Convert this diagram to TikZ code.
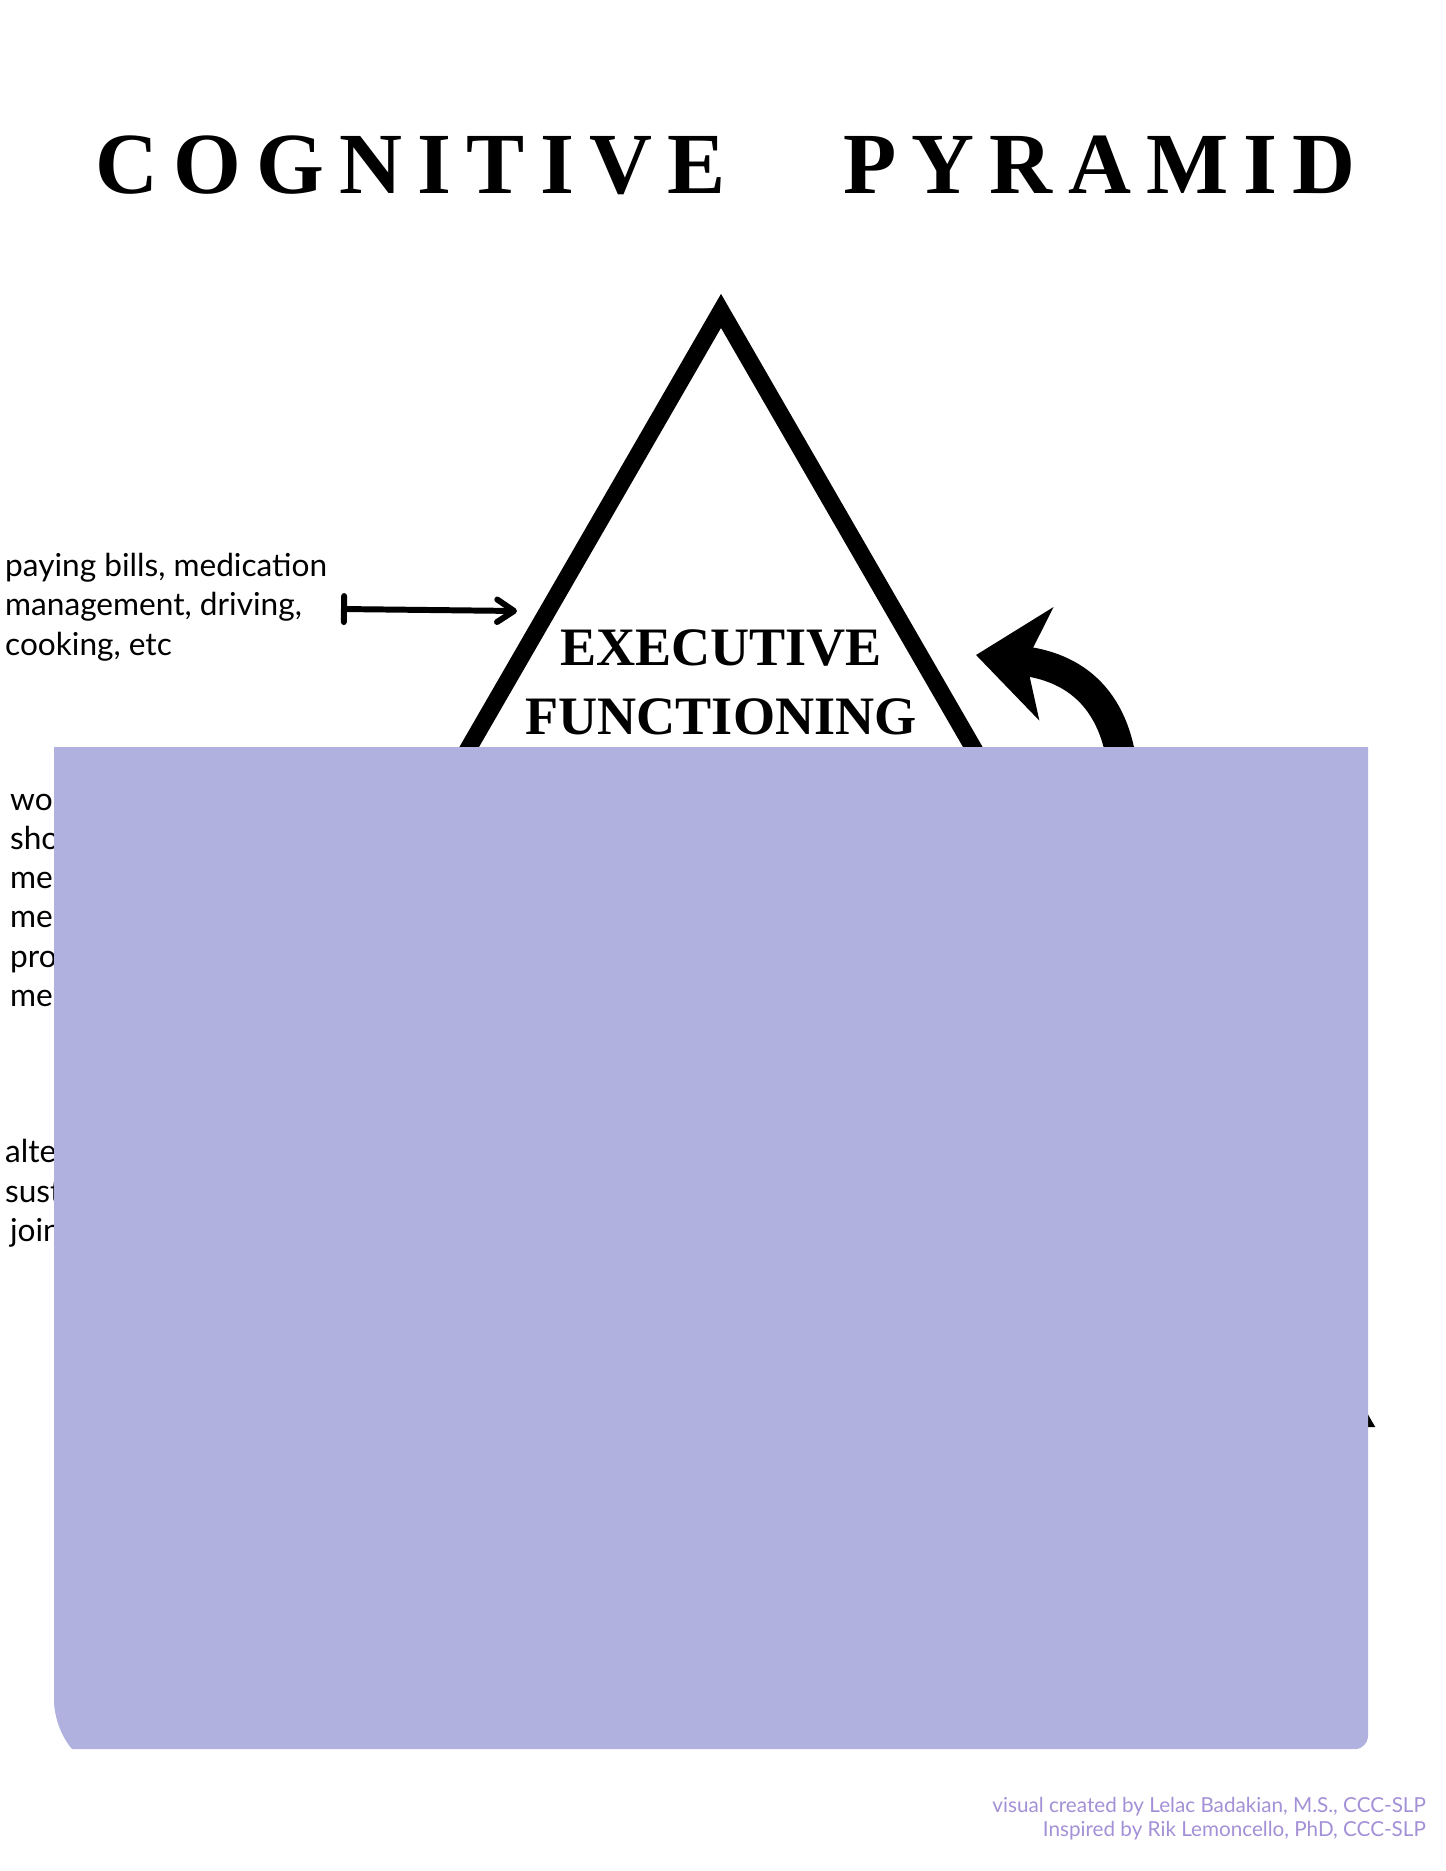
\documentclass[tikz,border=0pt]{standalone}
\usepackage{fontspec}
\setmainfont{Liberation Serif}
\newfontfamily\labelfont{Lato}
\newfontfamily\headfont[LetterSpace=17.5]{Liberation Serif}
\usetikzlibrary{arrows.meta}
\definecolor{lavender}{RGB}{176,177,222}
\definecolor{creditcol}{RGB}{163,144,214}
\tikzstyle{heading} = [inner sep=0, font=\headfont\bfseries\fontsize{124}{124}\selectfont]
\tikzstyle{level} = [inner sep=0, font=\bfseries\fontsize{77}{80}\selectfont]
\tikzstyle{example} = [inner sep=0, align=left, anchor=base west, font=\labelfont\fontsize{45}{55.5}\selectfont]
\tikzstyle{credit} = [inner sep=0, anchor=base east, text=creditcol, font=\labelfont\fontsize{29.4}{34}\selectfont]
\tikzstyle{pointer} = [line width=8.5pt, {Bar[width=37pt, line cap=round]}-{Straight Barb[length=24pt, width=32pt, line cap=round, line join=round]}]
\tikzstyle{sweep} = [line width=42pt, -{Stealth[length=100pt, width=160pt, inset=28pt]}]

\begin{document}
\begin{tikzpicture}[x=0.05cm, y=-0.05cm]
\useasboundingbox (0,0) rectangle (1445,1871);

% Title
\node (head1) [heading, anchor=base west] at (95,193) {COGNITIVE};
\node (head2) [heading, anchor=base west] at (843,193) {PYRAMID};

% Pyramid
\coordinate (apex) at (721,310.9);
\coordinate (baseL) at (81.5,1418.5);
\coordinate (baseR) at (1360.5,1418.5);
\draw [line width=24.2pt, line join=miter] (apex) -- (baseR) -- (baseL) -- cycle;

\node (exec) [level, anchor=base] at (721,665) {EXECUTIVE};
\node (func) [level, anchor=base] at (721,734) {FUNCTIONING};

% Examples (anchored at the last line)
\node (ef) [example] at (5,655) {paying bills, medication\\management, driving,\\cooking, etc};
\node (mem) [example] at (10,1006) {wor\\sho\\me\\me\\pro\\me};
\node (att) [example] at (5,1241) {alte\\sust\\\hspace{7pt}join};

% Arrows
\coordinate (tail) at (341,609);
\coordinate (tip) at (517,611);
\draw [pointer] (tail) -- (tip);

\coordinate (sweepstart) at (1124,790);
\coordinate (sweepend) at (976,655);
\draw [sweep] (sweepstart) .. controls (1122,705) and (1080,668) .. (sweepend);

% Cover
\fill [lavender] (54,747) -- (1368,747) -- (1368,1737) .. controls (1368,1743) and (1361,1749) .. (1357,1749) -- (72,1749) .. controls (60,1735) and (54,1715) .. (54,1700) -- cycle;

% Credits
\node (credit1) [credit] at (1426,1812) {visual created by Lelac Badakian, M.S., CCC-SLP};
\node (credit2) [credit] at (1426,1836) {Inspired by Rik Lemoncello, PhD, CCC-SLP};

\end{tikzpicture}
\end{document}
